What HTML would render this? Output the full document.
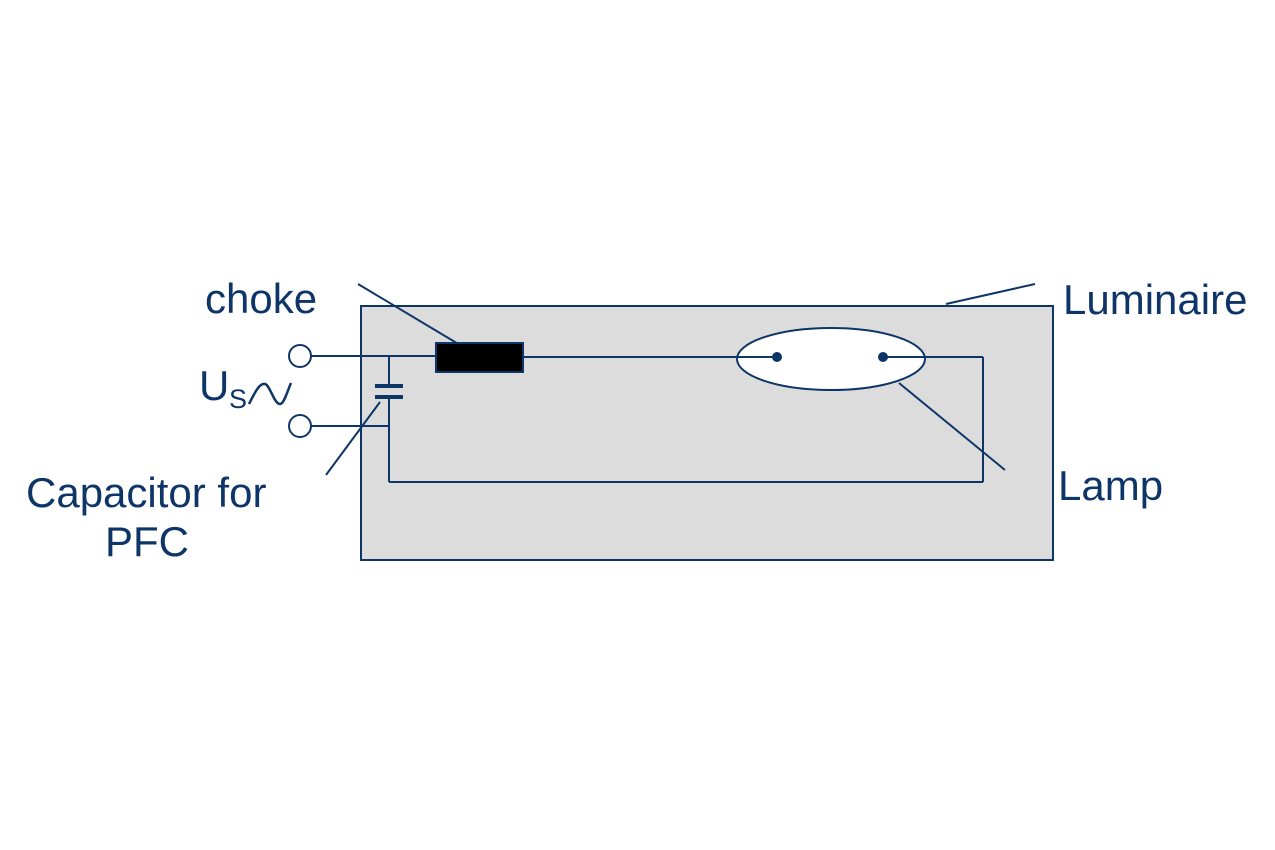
<!DOCTYPE html>
<html><head><meta charset="utf-8"><style>
html,body{margin:0;padding:0;background:#fff}
svg{display:block}
text{font-family:"Liberation Sans",Arial,sans-serif;fill:#0e3567}
</style></head><body>
<svg width="1275" height="850" viewBox="0 0 1275 850" xmlns="http://www.w3.org/2000/svg">
<g stroke="#0e3567" stroke-width="2" fill="none">
<rect x="361" y="306" width="692" height="254" fill="#dcdcdc"/>
<line x1="311" y1="356" x2="436" y2="356"/>
<line x1="523" y1="357" x2="737" y2="357"/>
<ellipse cx="831" cy="359" rx="94" ry="31" fill="#fff"/>
<line x1="737" y1="357" x2="777" y2="357"/>
<line x1="883" y1="357" x2="983" y2="357"/>
<line x1="983" y1="357" x2="983" y2="482"/>
<line x1="389" y1="482" x2="983" y2="482"/>
<line x1="389" y1="356" x2="389" y2="386"/>
<line x1="389" y1="397" x2="389" y2="482"/>
<line x1="311" y1="426" x2="389" y2="426"/>
<circle cx="300" cy="356" r="11" fill="#fff"/>
<circle cx="300" cy="426" r="11" fill="#fff"/>
<line x1="358" y1="284" x2="460" y2="345"/>
<line x1="326" y1="475" x2="380" y2="402"/>
<line x1="899" y1="383" x2="1005" y2="470"/>
<line x1="946" y1="304" x2="1035" y2="284"/>
</g>
<rect x="436" y="343" width="87" height="29" fill="#000" stroke="#0e3567" stroke-width="2"/>
<rect x="375" y="384" width="28" height="4" fill="#0e3567"/>
<rect x="375" y="395" width="28" height="4" fill="#0e3567"/>
<circle cx="777" cy="357" r="5" fill="#0e3567"/>
<circle cx="883" cy="357" r="5" fill="#0e3567"/>
<path d="M249 404 C256 390 260 383 265 384 C270 385 274 404 280 404 C284 404 287 392 291 383" stroke="#0e3567" stroke-width="2.5" fill="none"/>
<text x="205" y="313" font-size="42">choke</text>
<text x="1063" y="314" font-size="42">Luminaire</text>
<text x="1058" y="500" font-size="42">Lamp</text>
<text x="26" y="507" font-size="42">Capacitor for</text>
<text x="105" y="556" font-size="42">PFC</text>
<text x="199" y="400" font-size="42">U</text>
<text x="229" y="408" font-size="27">S</text>
</svg>
</body></html>
